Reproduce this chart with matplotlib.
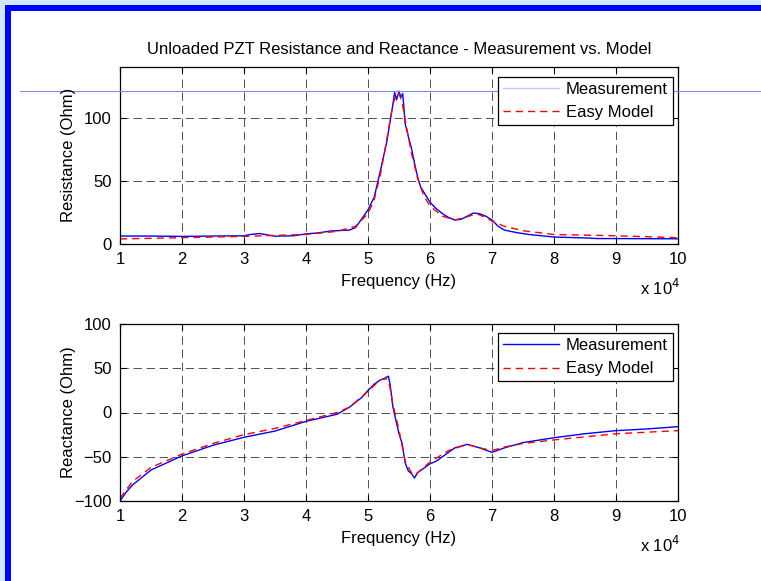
import matplotlib
matplotlib.use("Agg")
import matplotlib.pyplot as plt
from matplotlib.patches import Rectangle
from matplotlib.lines import Line2D

plt.rcParams['font.family'] = ['Liberation Sans', 'DejaVu Sans']
plt.rcParams['lines.scale_dashes'] = False

# Data (frequency in units of 1e4 Hz)
f_res_meas = [1.0, 1.5, 2.0, 2.5, 3.0, 3.1, 3.25, 3.4, 3.5, 3.8, 4.0, 4.2, 4.4, 4.7, 4.8, 4.9, 5.0, 5.1,
              5.2, 5.3, 5.35, 5.4, 5.43, 5.46, 5.5, 5.53, 5.56, 5.6, 5.65, 5.7, 5.75, 5.8, 5.85, 5.9,
              6.0, 6.1, 6.2, 6.3, 6.4, 6.5, 6.6, 6.7, 6.8, 6.9, 7.0, 7.1, 7.2, 7.4, 7.6, 8.0, 8.5,
              8.7, 9.0, 9.5, 10.0]
res_meas = [6.3, 6.3, 6.0, 6.3, 6.5, 7.5, 8.3, 7.0, 6.2, 6.5, 8.0, 8.8, 10.3, 11.0, 13.0, 20.0, 27.0, 37.0,
            58.0, 80.0, 95.0, 110.0, 120.0, 114.0, 121.0, 116.0, 119.0, 95.0, 85.0, 76.0, 64.0, 53.0, 45.0, 41.0,
            33.0, 28.0, 24.0, 21.0, 19.0, 19.5, 22.0, 24.5, 24.0, 22.0, 19.0, 14.0, 11.0, 9.0, 7.5, 5.5, 4.8,
            4.3, 4.3, 4.2, 4.1]

f_res_model = [1.0, 1.5, 2.0, 3.0, 3.5, 4.0, 4.5, 4.8, 5.0, 5.1, 5.2, 5.3, 5.4, 5.45, 5.5, 5.55, 5.6,
               5.7, 5.8, 5.9, 6.0, 6.2, 6.4, 6.6, 6.75, 6.9, 7.0, 7.2, 7.5, 8.0, 9.0, 10.0]
res_model = [4.0, 4.5, 5.0, 6.0, 6.8, 7.5, 10.0, 14.0, 24.0, 35.0, 55.0, 82.0, 110.0, 118.0, 119.0, 112.0, 98.0,
             72.0, 52.0, 38.0, 30.0, 22.0, 19.0, 21.5, 24.0, 21.0, 18.0, 14.0, 10.5, 7.5, 6.5, 5.0]

f_x_meas = [1.0, 1.1, 1.2, 1.5, 2.0, 2.5, 3.0, 3.5, 4.0, 4.5, 4.7, 4.9, 5.0, 5.1, 5.2, 5.25, 5.3, 5.33,
            5.36, 5.4, 5.45, 5.5, 5.55, 5.6, 5.65, 5.7, 5.75, 5.8, 5.9, 6.0, 6.1, 6.2, 6.4, 6.6, 6.8,
            7.0, 7.2, 7.5, 8.0, 8.5, 9.0, 9.5, 10.0]
x_meas = [-100, -90, -82, -65, -49, -37, -28, -21, -10, -2, 6, 17, 25, 32, 37, 38, 40, 41,
          30, 7, -9, -24, -35, -57, -66, -69, -74, -68, -63, -58, -55, -50, -40, -36, -40,
          -45, -40, -34, -28.5, -24, -20.5, -18.6, -16]

f_x_model = [1.0, 1.2, 1.5, 2.0, 2.5, 3.0, 3.5, 4.0, 4.5, 4.7, 5.0, 5.2, 5.3, 5.35, 5.4, 5.5, 5.6, 5.7,
             5.75, 5.8, 6.0, 6.3, 6.6, 6.8, 7.0, 7.2, 7.5, 8.0, 9.0, 10.0]
x_model = [-97, -78, -62, -47, -35, -25, -18, -9, 0, 6, 24, 37, 38, 30, 10, -20, -55, -68,
           -71, -68, -56, -43, -36, -40, -43, -39, -35, -31, -24, -20.5]

xticks = [1, 2, 3, 4, 5, 6, 7, 8, 9, 10]
res_ticks = [0, 50, 100]
x_ticks = [-100, -50, 0, 50, 100]

W, H = 761, 581
FS = 12
fig = plt.figure(figsize=(W / 100, H / 100), dpi=100)
fig.patch.set_facecolor('white')

# window frame decorations
fig.add_artist(Rectangle((0, 1 - 6 / H), 1, 6 / H, transform=fig.transFigure, color='#cce8ff', lw=0, zorder=-10))
fig.add_artist(Rectangle((0, 0), 5 / W, 1, transform=fig.transFigure, color='#cce8ff', lw=0, zorder=-10))
fig.add_artist(Rectangle((5 / W, 1 - 11 / H), 1 - 5 / W, 6 / H, transform=fig.transFigure, color='#0000ff', lw=0, zorder=-9))
fig.add_artist(Rectangle((5 / W, 0), 6 / W, 1 - 6 / H, transform=fig.transFigure, color='#0000ff', lw=0, zorder=-9))


def px_axes(l, t, r, b):
    return [l / W, 1 - b / H, (r - l) / W, (b - t) / H]


def fx(px):
    return px / W


def fy(py):
    return 1 - py / H


ax1 = fig.add_axes(px_axes(120, 67, 678, 244))
ax2 = fig.add_axes(px_axes(120, 324, 678, 501))

GRID_DASH = (6.0, 3.4)
MODEL_DASH = (5.2, 3.6)
grid_kw = dict(color='black', linewidth=0.6, dashes=GRID_DASH, alpha=0.8)
for ax in (ax1, ax2):
    ax.set_xlim(1, 10)
    ax.set_xticks(xticks)
    ax.set_xticklabels([str(t) for t in xticks])
    ax.tick_params(direction='in', top=True, right=True, length=4, width=0.8, labelsize=FS, pad=6, colors='black')
    ax.grid(True, **grid_kw)
    for s in ax.spines.values():
        s.set_linewidth(0.9)

ax1.plot(f_res_meas, res_meas, color='#0000ff', lw=1.0, label='Measurement')
ax1.plot(f_res_model, res_model, color='#ff0000', lw=1.0, dashes=MODEL_DASH, label='Easy Model')
ax1.set_ylim(0, 140)
ax1.set_yticks(res_ticks)

ax2.plot(f_x_meas, x_meas, color='#0000ff', lw=1.0, label='Measurement')
ax2.plot(f_x_model, x_model, color='#ff0000', lw=1.0, dashes=MODEL_DASH, label='Easy Model')
ax2.set_ylim(-100, 100)
ax2.set_yticks(x_ticks)

# axis labels and title placed at the reference pixel positions
fig.text(fx(399), fy(49), 'Unloaded PZT Resistance and Reactance - Measurement vs. Model', fontsize=FS,
         ha='center', va='center')
fig.text(fx(68), fy(155), 'Resistance (Ohm)', fontsize=FS, rotation=90, ha='center', va='center')
fig.text(fx(68), fy(412), 'Reactance (Ohm)', fontsize=FS, rotation=90, ha='center', va='center')
fig.text(fx(399), fy(281), 'Frequency (Hz)', fontsize=FS, ha='center', va='center')
fig.text(fx(399), fy(538), 'Frequency (Hz)', fontsize=FS, ha='center', va='center')

leg_kw = dict(loc='upper right', bbox_transform=fig.transFigure, fontsize=FS, frameon=True, fancybox=False,
              edgecolor='black', framealpha=1, handlelength=3.4, borderpad=0.3, labelspacing=0.5,
              handletextpad=0.4, borderaxespad=0)
h1 = [Line2D([], [], color='#c8c8ff', lw=1.0),
      Line2D([], [], color='#ff0000', lw=1.0, dashes=MODEL_DASH)]
leg1 = ax1.legend(h1, ['Measurement', 'Easy Model'], bbox_to_anchor=(fx(673), fy(77)), **leg_kw)
leg1.get_frame().set_linewidth(0.9)
leg1.set_zorder(10)
leg2 = ax2.legend(bbox_to_anchor=(fx(673), fy(333)), **leg_kw)
leg2.get_frame().set_linewidth(0.9)

# exponent labels
fig.text(fx(640), fy(295), r'x 10$^{4}$', fontsize=FS, ha='left', va='baseline')
fig.text(fx(640), fy(552), r'x 10$^{4}$', fontsize=FS, ha='left', va='baseline')

# stray horizontal line across the figure (under the legend)
ax1.add_line(Line2D([fx(20), 1], [fy(91), fy(91)], transform=fig.transFigure,
                    color='#7f8fe6', lw=0.8, zorder=4, clip_on=False))

fig.savefig('out.png', dpi=100, facecolor=fig.get_facecolor())
